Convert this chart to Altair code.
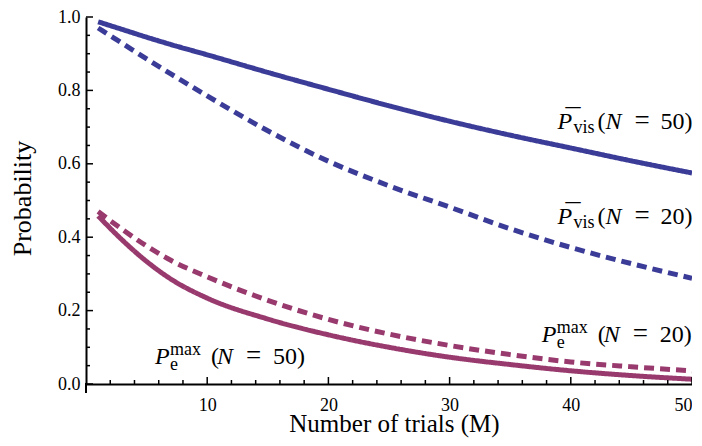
import altair as alt
import pandas as pd

# ---- data ----
trials = [1, 3, 5, 7, 10, 15, 20, 25, 30, 35, 40, 45, 50]
p_vis_50 = [0.987, 0.966, 0.945, 0.925, 0.897, 0.849, 0.803, 0.758, 0.716, 0.678, 0.643, 0.608, 0.575]
p_vis_20 = [0.970, 0.928, 0.886, 0.845, 0.785, 0.690, 0.607, 0.540, 0.482, 0.423, 0.372, 0.328, 0.288]
p_e_20 = [0.470, 0.421, 0.376, 0.337, 0.292, 0.228, 0.176, 0.136, 0.105, 0.080, 0.060, 0.047, 0.036]
p_e_50 = [0.458, 0.392, 0.334, 0.286, 0.234, 0.177, 0.134, 0.100, 0.073, 0.053, 0.036, 0.023, 0.013]

series_names = ["vis50", "vis20", "pe20", "pe50"]
series_values = [p_vis_50, p_vis_20, p_e_20, p_e_50]

x_major = [10, 20, 30, 40, 50]
x_minor = [v for v in range(2, 50, 2) if v % 10 != 0]
y_major = [0.0, 0.2, 0.4, 0.6, 0.8, 1.0]
y_minor = [round(0.05 * k, 2) for k in range(1, 20) if k % 4 != 0]

# label anchors (data coordinates)
vis_label_M = [38.9, 38.9]
vis_label_p = [0.694, 0.437]
vis_label_num = ["50)", "20)"]
pe_label_M = [37.6, 5.7]
pe_label_p = [0.114, 0.0555]
pe_label_num = ["20)", "50)"]

BLUE = "#3b3b98"
MAG = "#993a6e"
FONT = "Liberation Serif"

rows = []
for name, vals in zip(series_names, series_values):
    for m, p in zip(trials, vals):
        rows.append({"M": m, "p": p, "series": name})
lines_df = pd.DataFrame(rows)

xs = alt.Scale(domain=[0, 50], nice=False, zero=False)
ys = alt.Scale(domain=[0, 1], nice=False, zero=False)

xaxis = alt.Axis(
    values=x_major, format="d", ticks=False, grid=False, domainColor="black", domainWidth=2,
    labelFont=FONT, labelFontSize=18, labelColor="black", labelPadding=12,
    title="Number of trials (M)", titleFont=FONT, titleFontSize=25, titleFontWeight="normal",
    titleColor="black", titleX=308, titleY=39, titleBaseline="middle")
yaxis = alt.Axis(
    values=y_major, format=".1f", ticks=False, grid=False, domainColor="black", domainWidth=2,
    labelFont=FONT, labelFontSize=18, labelColor="black", labelPadding=6,
    title="Probability", titleFont=FONT, titleFontSize=26, titleFontWeight="normal",
    titleColor="black", titleAngle=270, titleX=-64, titleY=181, titleBaseline="middle")

X = lambda: alt.X("M:Q", scale=xs, axis=xaxis)
Y = lambda: alt.Y("p:Q", scale=ys, axis=yaxis)

lines = alt.Chart(lines_df).mark_line(strokeWidth=5, strokeCap="butt", interpolate="monotone").encode(
    x=X(), y=Y(),
    color=alt.Color("series:N", scale=alt.Scale(domain=series_names, range=[BLUE, BLUE, MAG, MAG]), legend=None),
    strokeDash=alt.StrokeDash("series:N", scale=alt.Scale(domain=series_names,
                              range=[[1, 0], [10, 6], [10, 6], [1, 0]]), legend=None),
    detail="series:N",
)

W = 606
H = 367

def xticks(vals, length):
    return alt.Chart(pd.DataFrame({"M": vals})).mark_rule(color="black", strokeWidth=1.5).encode(
        x=X(), y=alt.value(H), y2=alt.value(H - length))

def yticks(vals, length):
    return alt.Chart(pd.DataFrame({"p": vals})).mark_rule(color="black", strokeWidth=1.5).encode(
        y=Y(), x=alt.value(0), x2=alt.value(length))

ext = alt.Chart(pd.DataFrame({"M": [0]})).mark_rule(color="black", strokeWidth=2).encode(
    x=X(), y=alt.value(H - 1), y2=alt.value(H + 9))

vis_df = pd.DataFrame({"M": vis_label_M, "p": vis_label_p, "num": vis_label_num})
pe_df = pd.DataFrame({"M": pe_label_M, "p": pe_label_p, "num": pe_label_num})

def piece(df, text, dx, dy=0, size=24, style="normal", field=None):
    mk = dict(align="left", baseline="alphabetic", font=FONT, fontSize=size, fontStyle=style,
              color="black", dx=dx, dy=dy)
    if field is None:
        mk["text"] = text
    enc = dict(x=X(), y=Y())
    if field is not None:
        enc["text"] = alt.Text(field + ":N")
    return alt.Chart(df).mark_text(**mk).encode(**enc)

vis_pieces = [
    piece(vis_df, "P", 0, style="italic"),
    piece(vis_df, "\u00af", 8, dy=0, size=30),
    piece(vis_df, "vis", 16, dy=4, size=18),
    piece(vis_df, "(", 40),
    piece(vis_df, "N", 48, style="italic"),
    piece(vis_df, "=", 77, size=27),
    piece(vis_df, None, 103, field="num"),
]
pe_pieces = [
    piece(pe_df, "P", 0, style="italic"),
    piece(pe_df, "e", 15, dy=6, size=18),
    piece(pe_df, "max", 15, dy=-9, size=18),
    piece(pe_df, "(", 56),
    piece(pe_df, "N", 62, style="italic"),
    piece(pe_df, "=", 91, size=27),
    piece(pe_df, None, 118, field="num"),
]

chart = alt.layer(
    lines, xticks(x_major, 7), xticks(x_minor, 4), yticks(y_major, 7), yticks(y_minor, 4), ext,
    *vis_pieces, *pe_pieces
).properties(
    width=W, height=H, autosize="none",
    padding={"left": 78, "top": 9, "right": 0, "bottom": 54},
).configure_view(stroke=None)

chart.save("out.html", embed_options={"renderer": "svg", "actions": False})
